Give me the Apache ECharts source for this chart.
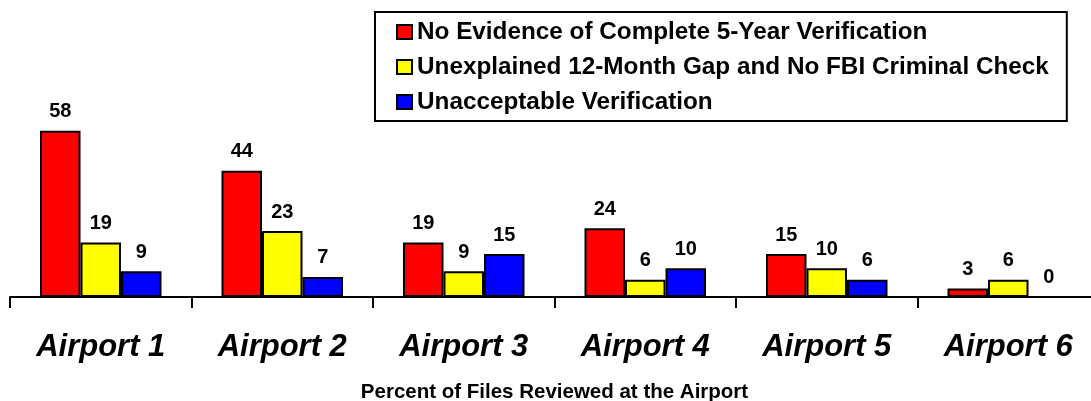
<!DOCTYPE html>
<html>
<head>
<meta charset="utf-8">
<script src="https://cdn.jsdelivr.net/npm/echarts@6/dist/echarts.min.js"></script>
<style>
html,body{margin:0;padding:0;background:#fff;}
#chart{width:1091px;height:401px;}
</style>
</head>
<body>
<div id="chart"></div>
<script>
const categories = ["Airport 1","Airport 2","Airport 3","Airport 4","Airport 5","Airport 6"];
const seriesNames = [
  "No Evidence of Complete 5-Year Verification",
  "Unexplained 12-Month Gap and No FBI Criminal Check",
  "Unacceptable Verification"
];
const noEvidence = [58, 44, 19, 24, 15, 3];
const unexplainedGap = [19, 23, 9, 6, 10, 6];
const unacceptable = [9, 7, 15, 10, 6, 0];
const axisTitle = "Percent of Files Reviewed at the Airport";
const colors = ["#FF0000", "#FFFF00", "#0000FF"];

const FONT = "'Liberation Sans', Arial, sans-serif";
const chart = echarts.init(document.getElementById('chart'), null, {renderer: 'canvas'});
const dataSets = [noEvidence, unexplainedGap, unacceptable];
chart.setOption({
  animation: false,
  backgroundColor: '#ffffff',
  textStyle: {fontFamily: FONT},
  legend: {
    orient: 'vertical',
    left: 375,
    top: 12,
    padding: [8, 18, 7, 21],
    itemGap: 11,
    itemWidth: 15,
    itemHeight: 14,
    icon: 'rect',
    borderColor: '#000',
    borderWidth: 2,
    textStyle: {fontFamily: FONT, fontWeight: 'bold', fontSize: 24.3, color: '#000'},
    itemStyle: {borderColor: '#000', borderWidth: 2},
    data: seriesNames
  },
  grid: {left: 10, top: 125, width: 1089, bottom: 104, containLabel: false, outerBoundsMode: 'none'},
  xAxis: {
    type: 'category',
    data: categories,
    axisLine: {lineStyle: {color: '#000', width: 2}},
    axisTick: {show: true, length: 11, lineStyle: {color: '#000', width: 2}},
    axisLabel: {
      margin: 35,
      fontFamily: FONT, fontWeight: 'bold', fontStyle: 'italic', fontSize: 31, color: '#000'
    },
    name: axisTitle,
    nameLocation: 'middle',
    nameGap: 85,
    nameTextStyle: {fontFamily: FONT, fontWeight: 'bold', fontSize: 20.5, color: '#000'}
  },
  yAxis: {type: 'value', min: 0, max: 60, show: false, splitLine: {show: false}},
  series: dataSets.map((d, i) => ({
    name: seriesNames[i],
    type: 'bar',
    data: d,
    barWidth: 40.5,
    barGap: '0%',
    itemStyle: {color: colors[i], borderColor: '#000', borderWidth: 2},
    label: {
      show: true, position: 'top', distance: 9,
      fontFamily: FONT, fontWeight: 'bold', fontSize: 20, color: '#000'
    }
  }))
});
</script>
</body>
</html>
